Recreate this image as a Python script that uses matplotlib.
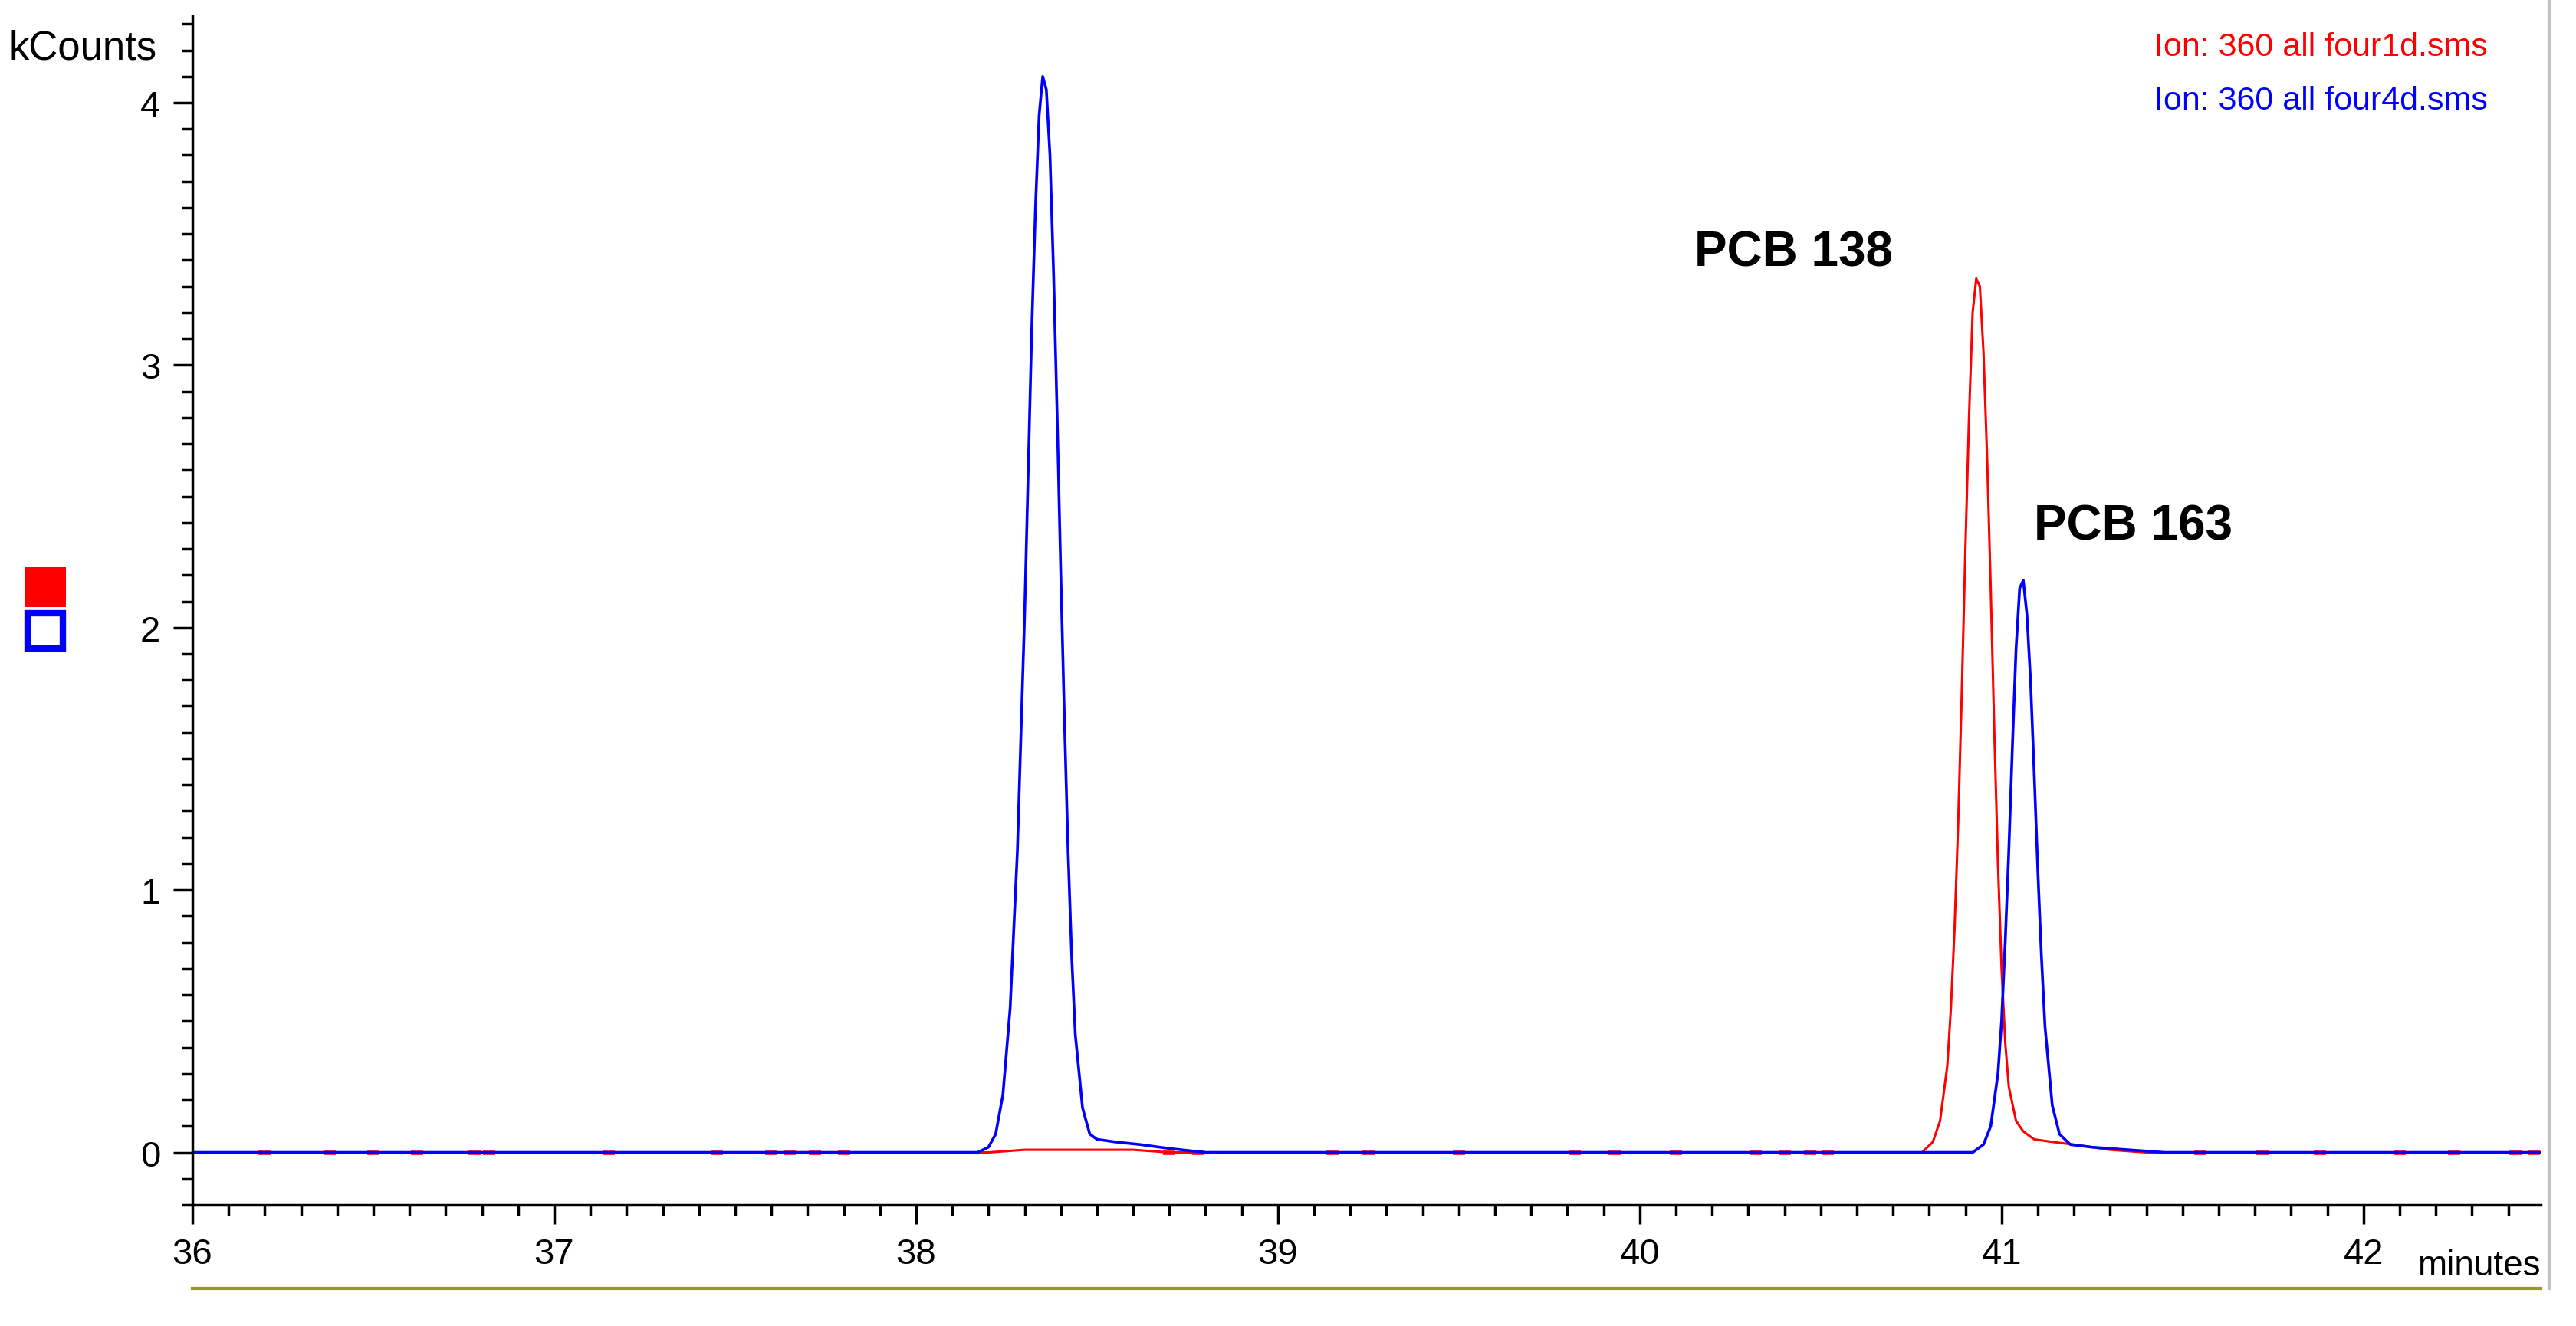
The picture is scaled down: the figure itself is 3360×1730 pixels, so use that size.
import matplotlib
matplotlib.use("Agg")
import matplotlib.pyplot as plt
from matplotlib.patches import Rectangle
from matplotlib.lines import Line2D
from matplotlib.ticker import MultipleLocator

# Data
blue_t = [36.0, 38.17, 38.20, 38.22, 38.24, 38.26, 38.28, 38.30, 38.31, 38.32, 38.33, 38.34, 38.35, 38.36, 38.37, 38.38,
          38.39, 38.40, 38.41, 38.42, 38.43, 38.44, 38.46, 38.48, 38.50, 38.55, 38.62, 38.70, 38.80,
          40.92, 40.95, 40.97, 40.99, 41.00, 41.01, 41.02, 41.03, 41.04, 41.05, 41.06, 41.07, 41.08, 41.09,
          41.10, 41.11, 41.12, 41.14, 41.16, 41.19, 41.25, 41.35, 41.45, 42.5]
blue_y = [0, 0, 0.02, 0.07, 0.22, 0.55, 1.15, 2.05, 2.6, 3.15, 3.6, 3.95, 4.1, 4.05, 3.8, 3.35,
          2.8, 2.2, 1.65, 1.15, 0.75, 0.45, 0.17, 0.07, 0.05, 0.04, 0.03, 0.015, 0.0,
          0, 0.03, 0.1, 0.3, 0.5, 0.8, 1.15, 1.55, 1.92, 2.15, 2.18, 2.05, 1.8, 1.45,
          1.08, 0.75, 0.48, 0.18, 0.07, 0.03, 0.02, 0.01, 0, 0]
red_t = [36.0, 38.2, 38.3, 38.6, 38.7, 40.78, 40.81, 40.83, 40.85, 40.86, 40.87, 40.88, 40.89, 40.90, 40.91, 40.92, 40.93,
         40.94, 40.95, 40.96, 40.97, 40.98, 40.99, 41.00, 41.01, 41.02, 41.04, 41.06, 41.09, 41.14, 41.2, 41.3, 41.4, 42.5]
red_y = [0, 0, 0.01, 0.01, 0, 0, 0.04, 0.12, 0.33, 0.55, 0.85, 1.25, 1.75, 2.3, 2.8, 3.2, 3.33,
         3.3, 3.05, 2.65, 2.15, 1.6, 1.1, 0.7, 0.42, 0.25, 0.12, 0.08, 0.05, 0.04, 0.03, 0.01, 0, 0]
red_blips = [36.2, 36.38, 36.5, 36.62, 36.78, 36.82, 37.15, 37.45, 37.6, 37.65, 37.72, 37.8, 38.7, 38.78, 39.15, 39.25, 39.5,
             39.82, 39.93, 40.1, 40.32, 40.4, 40.47, 40.52, 41.55, 41.72, 41.88, 42.1, 42.25, 42.42, 42.47]
legend_texts = ["Ion: 360 all four1d.sms", "Ion: 360 all four4d.sms"]
labels = [("PCB 138", 40.15, 3.34), ("PCB 163", 41.09, 2.3)]

W, H = 3360, 1731
fig = plt.figure(figsize=(W / 100, H / 100), dpi=100)
plt.rcParams['font.family'] = ['Liberation Sans', 'DejaVu Sans']
ax = fig.add_axes([251 / W, 1 - 1573 / H, (3314 - 251) / W, (1573 - 22) / H])
ax.plot(red_t, red_y, color='#ff0000', lw=2.2)
ax.plot(red_blips, [0.0] * len(red_blips), ls='none', marker='_', ms=12, mew=4, color='#ff0000')
ax.plot(blue_t, blue_y, color='#0000ff', lw=2.6)
ax.set_xlim(36, 42.49)
ax.set_ylim(-0.2, 4.33)
for s in ['top', 'right']:
    ax.spines[s].set_visible(False)
for s in ['left', 'bottom']:
    ax.spines[s].set_linewidth(2.5)
ax.xaxis.set_major_locator(MultipleLocator(1))
ax.xaxis.set_minor_locator(MultipleLocator(0.1))
ax.yaxis.set_major_locator(MultipleLocator(1))
ax.yaxis.set_minor_locator(MultipleLocator(0.1))
ax.tick_params(which='major', length=18, width=2.5, labelsize=34, direction='out', pad=12)
ax.tick_params(which='minor', length=10, width=2.5, direction='out')
ax.set_yticks([0, 1, 2, 3, 4])
ax.set_yticklabels(['0', '1', '2', '3', '4'])

for txt, x, y in labels:
    ax.text(x, y, txt, fontsize=46, fontweight='bold', va='bottom', ha='left')

fig.text(205 / W, 1 - 63 / H, "kCounts", fontsize=38, ha='right', va='center')
fig.text(3314 / W, 1 - 1652 / H, "minutes", fontsize=33, ha='right', va='center')
fig.text(3245 / W, 1 - 62 / H, legend_texts[0], fontsize=31, color='#ff0000', ha='right', va='center')
fig.text(3245 / W, 1 - 132 / H, legend_texts[1], fontsize=31, color='#0000ff', ha='right', va='center')

fig.add_artist(Rectangle((32 / W, 1 - 793 / H), 54 / W, 52 / H, transform=fig.transFigure,
                         facecolor='#ff0000', edgecolor='none'))
fig.add_artist(Rectangle((36 / W, 1 - 847 / H), 46 / W, 46 / H, transform=fig.transFigure,
                         facecolor='white', edgecolor='#0000ff', lw=6))
fig.add_artist(Line2D([251 / W, 3314 / W], [1 - 1682 / H] * 2, transform=fig.transFigure, color='#9a9a1a', lw=3))
fig.add_artist(Line2D([3325 / W] * 2, [1 - 1682 / H, 1.0], transform=fig.transFigure, color='#c0c0c0', lw=3))

fig.savefig("out.png", dpi=100)
